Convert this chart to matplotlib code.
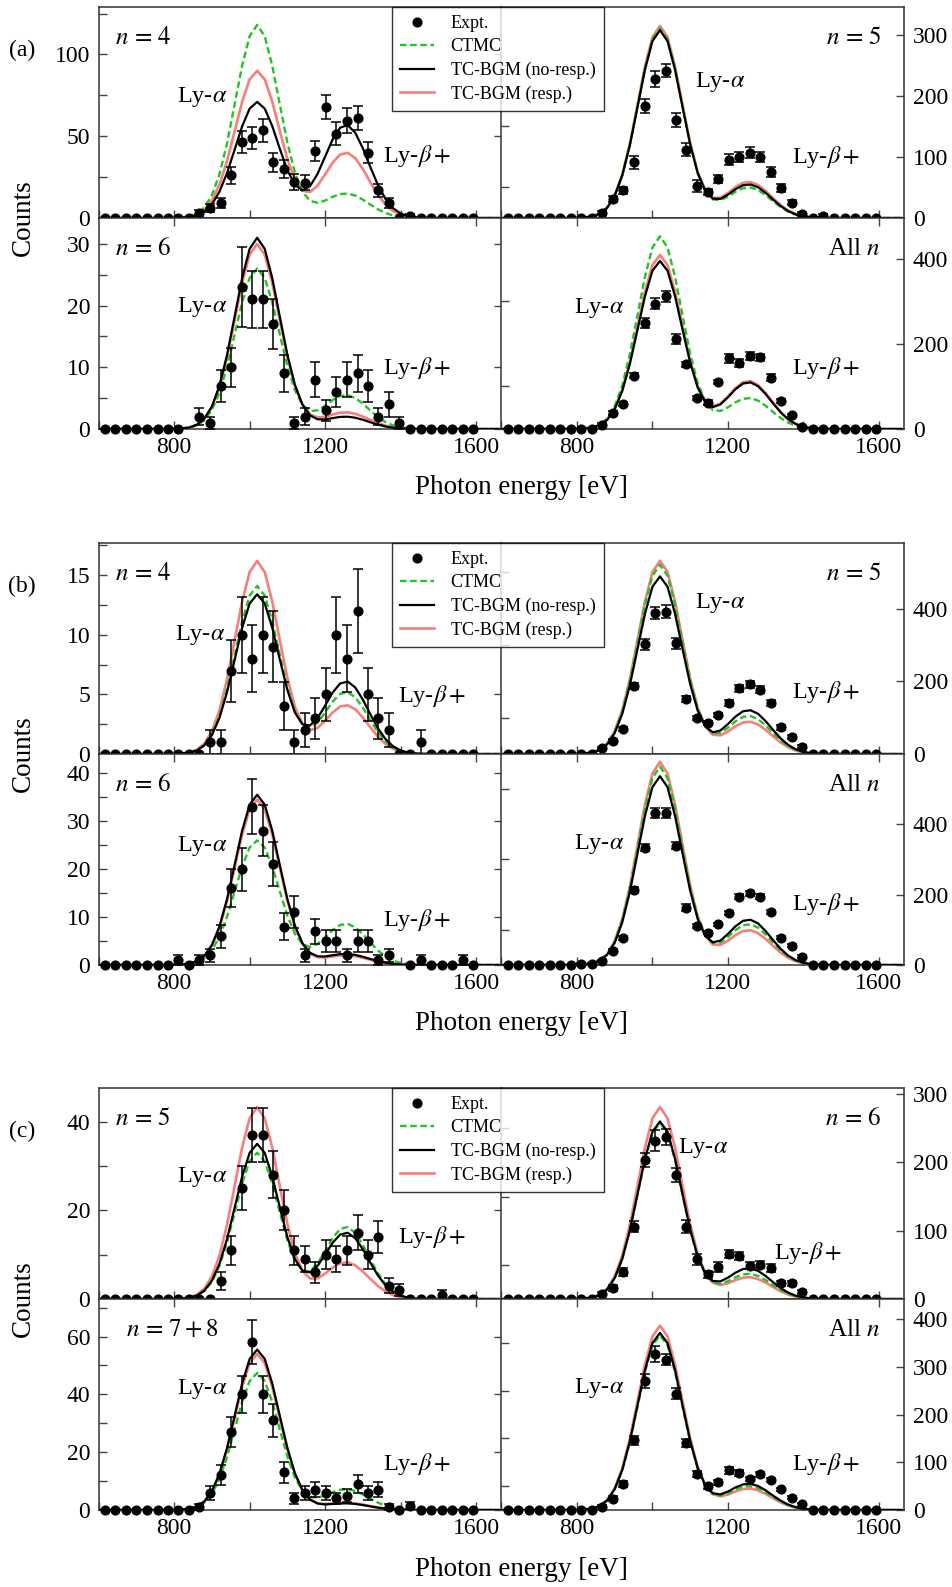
import numpy as np
import matplotlib
matplotlib.use('Agg')
import matplotlib.pyplot as plt
from matplotlib.lines import Line2D
from matplotlib.ticker import MultipleLocator

plt.rcParams['font.family'] = ['Liberation Serif', 'DejaVu Serif']
plt.rcParams['mathtext.fontset'] = 'stix'

nan = np.nan

# bin centres of the measured spectra [eV]
energy = [616, 644, 672, 700, 728, 756, 783, 811, 839, 867, 895, 923,
          951, 979, 1007, 1035, 1062, 1090, 1118, 1146, 1174, 1202, 1230, 1258,
          1286, 1314, 1341, 1369, 1397, 1425, 1453, 1481, 1509, 1537, 1565, 1593]

# model line shapes (peak normalised), read on a 20 eV grid 600..1660
curve_energy = np.arange(600, 1661, 20)
ly_alpha_shape = [0, 0, 0, 0, 0, 0, 0, 0, 0, 0,
                  0.001, 0.003, 0.008, 0.022, 0.054, 0.118, 0.226, 0.386, 0.586, 0.788,
                  0.942, 1.0, 0.942, 0.788, 0.586, 0.386, 0.226, 0.118, 0.054, 0.022,
                  0.008, 0.003, 0.001,
                  0, 0, 0, 0, 0, 0, 0, 0, 0, 0, 0, 0, 0, 0, 0, 0, 0, 0, 0, 0, 0]
ly_beta_shape = [0, 0, 0, 0, 0, 0, 0, 0, 0, 0, 0, 0, 0, 0, 0, 0, 0, 0, 0, 0, 0, 0, 0,
                 0.004, 0.012, 0.032, 0.073, 0.150, 0.274, 0.446, 0.648, 0.839, 0.968,
                 0.996, 0.914, 0.748, 0.545, 0.354, 0.205, 0.106, 0.049, 0.020, 0.007,
                 0.002, 0.001,
                 0, 0, 0, 0, 0, 0, 0, 0, 0]

# (a)
a_n4_counts = [0] * 9 + [3, 6, 9, 26, 46.5, 49, 53.5, 34, 30, 22, 21.5, 41, 68, 51.5, 59.5, 61,
                         40, 17, 9, 0, 1.5] + [0] * 6
a_n4_err = [0] * 9 + [1.7, 2.4, 3, 5, 6.6, 6.8, 7, 5.8, 5.4, 4.6, 4.5, 6.3, 7.2, 7, 7.5, 7.5,
                      6.2, 4, 3, 0, 1.2] + [0] * 6
a_n4_ctmc, a_n4_noresp, a_n4_resp = [118, 15], [71, 57], [90, 40]

a_n5_counts = [0] * 9 + [8, 31, 45, 91, 183, 227, 241, 160, 112, 52, 42, 64, 95, 100, 107, 100,
                         75, 49, 25, 6.5, 0, 4, 0, 0, 0, 0, 0]
a_n5_err = [0] * 9 + [3, 5, 6, 11, 12, 13, 10, 11, 11, 10, 5, 6, 9, 8, 9, 8,
                      8, 7, 4, 3, 0, 2, 0, 0, 0, 0, 0]
a_n5_ctmc, a_n5_noresp, a_n5_resp = [310, 50], [307, 55], [314, 59]

a_n6_counts = [0] * 8 + [nan] + [2, 1, 7, 10, 23, 21, 21, 17, 9, 1, 2, 8, 3, 6, 8, 9, 7, 2, 4, 1] + [0] * 7
a_n6_err = [0] * 9 + [1.4, 1, 2.6, 3.2, 6.5, 4.6, 4.6, 4.1, 3, 1, 1.4, 2.8, 1.7, 2.4, 2.8, 3,
                      2.6, 1.4, 2, 1] + [0] * 7
a_n6_ctmc, a_n6_noresp, a_n6_resp = [26, 5.5], [31, 2], [30, 2.7]

a_all_counts = [0] * 9 + [10, 37.5, 58.5, 125, 250, 295, 312, 211, 152, 73, 62, 110, 166, 155,
                          172, 169, 121, 66, 32, 5] + [0] * 7
a_all_err = [0] * 9 + [3, 5, 5, 6, 12, 13, 13, 12, 6, 5, 5, 5, 10, 10, 9, 8, 9, 5, 4, 2] + [0] * 7
a_all_ctmc, a_all_noresp, a_all_resp = [453, 73], [395, 110], [409, 113]

# (b)
b_n4_counts = [0] * 10 + [1, 1, 7, 10, 8, 10, 9, 4, 1, 2, 3, 5, 10, 8, 12, 5, 3, 2] + [0, 0, 1, 0, 0, 0, 0, 0]
b_n4_err = [0] * 10 + [1, 1, 2.6, 3.2, 2.8, 3.2, 3, 2, 1, 1.4, 1.7, 2.2, 3.2, 2.8, 3.5, 2.2,
                       1.7, 1.4] + [0, 0, 1, 0, 0, 0, 0, 0]
b_n4_ctmc, b_n4_noresp, b_n4_resp = [14.1, 5.2], [13.4, 6.1], [16.2, 4.1]

b_n5_counts = [0] * 9 + [15.5, 37, 69, 188, 302, 388, 392, 305, 151, 100, 86, 108, 140, 181, 192,
                         177, 140, 73, 46, 20] + [0] * 7
b_n5_err = [0] * 9 + [3, 4, 5, 8, 15, 17, 17, 15, 8, 6, 5, 6, 8, 10, 10, 9, 9, 6, 5, 4] + [0] * 7
b_n5_ctmc, b_n5_noresp, b_n5_resp = [521, 105], [489, 121], [532, 89]

b_n6_counts = [0] * 7 + [1, 0, 1, 2, 6, 16, 20, 33, 28, 21, 8, 11, 2, 7, 5, 5, 2, 5, 5, 1, 2] + [nan] + \
              [0, 1, 0, 0, 0, 1, 0]
b_n6_err = [0] * 7 + [1, 0, 1, 1.4, 2.4, 4, 4.5, 5.7, 5.3, 4.6, 2.8, 3.3, 1.4, 2.6, 2.2, 2.2, 1.4,
                      2.2, 2.2, 1, 1.4] + [0] + [0, 1, 0, 0, 0, 1, 0]
b_n6_ctmc, b_n6_noresp, b_n6_resp = [26, 8.6], [35.5, 2.3], [34.5, 2.0]

b_all_counts = [0] * 7 + [4, 4, 11, 40, 76, 213, 333, 432, 432, 338, 163, 111, 92, 115, 148, 194,
                          203, 194, 151, 78, 55, 24] + [0] * 7
b_all_err = [0] * 7 + [2, 2, 3, 5, 6, 8, 10, 15, 15, 10, 10, 6, 5, 5, 6, 8, 8, 8, 6, 5, 4, 3] + [0] * 7
b_all_ctmc, b_all_noresp, b_all_resp = [563, 116], [536, 129], [577, 99]

# (c)
c_n5_counts = [0] * 11 + [4, 11, 25, 37, 37, 28, 20, 11, 9, 6, 10, 9, 11, 15, 10, 14, 3, 2] + \
              [0, 0, 0, 1, 0, 0, 0]
c_n5_err = [0] * 11 + [2, 3.3, 5, 6.1, 6.1, 5.3, 4.5, 3.3, 3, 2.4, 3.2, 3, 3.3, 3.9, 3.2, 3.7,
                       1.7, 1.4] + [0, 0, 0, 1, 0, 0, 0]
c_n5_ctmc, c_n5_noresp, c_n5_resp = [33, 16.3], [35, 15], [43.3, 8.3]

c_n6_counts = [0] * 9 + [7, 16, 39, 106, 204, 232, 237, 182, 106, 58, 36, 47, 66, 63, 49, 50, 45,
                         23, 23, 10] + [0] * 7
c_n6_err = [0] * 9 + [3, 4, 6, 8, 10, 15, 12, 10, 10, 8, 5, 7, 6, 6, 5, 5, 6, 4, 4, 3] + [0] * 7
c_n6_ctmc, c_n6_noresp, c_n6_resp = [258, 37], [260, 45], [281, 32]

c_n78_counts = [0] * 9 + [1, 6, 12, 27, 40, 58, 40, 31, 13, 4, 6, 7, 6, 4, 5, 9, 6, 7, 1, 0, 1.5] + [0] * 6
c_n78_err = [0] * 9 + [1, 2.4, 3.5, 5.2, 6.3, 7.6, 6.3, 5.6, 3.6, 2, 2.4, 2.6, 2.4, 2, 2.2, 3, 2.4,
                       2.6, 1, 0, 1.2] + [0] * 6
c_n78_ctmc, c_n78_noresp, c_n78_resp = [47.4, 7.2], [55.5, 2.3], [54, 2.5]

c_all_counts = [0] * 9 + [7, 24, 54, 146, 270, 327, 315, 244, 141, 75, 50, 58, 83, 78, 65, 75, 63,
                          43, 26, 12] + [0] * 7
c_all_err = [0] * 9 + [3, 5, 6, 10, 15, 16, 12, 11, 8, 6, 5, 5, 8, 6, 5, 5, 5, 4, 4, 3] + [0] * 7
c_all_ctmc, c_all_noresp, c_all_resp = [366, 50], [371, 55], [386, 45]

GREEN = '#22c322'
SALMON = '#f47f7b'
SPINE = '#333333'

W, H = 953, 1587
PW, PH = 403, 211
COL_X = [98.7, 501.5]

fig = plt.figure(figsize=(W / 100, H / 100), dpi=100)


def draw_panel(ax, counts, err, ctmc, noresp, resp):
    a = np.array(ly_alpha_shape)
    b = np.array(ly_beta_shape)
    ax.plot(curve_energy, resp[0] * a + resp[1] * b, color=SALMON, lw=1.9, zorder=2)
    ax.plot(curve_energy, ctmc[0] * a + ctmc[1] * b, color=GREEN, lw=1.7, dashes=(2.8, 1.5), zorder=3)
    ax.plot(curve_energy, noresp[0] * a + noresp[1] * b, color='black', lw=1.6, zorder=4)
    x = np.array(energy, float)
    y = np.array(counts, float)
    e = np.array(err, float)
    m = e > 0
    ax.errorbar(x[m], y[m], yerr=e[m], fmt='none', ecolor='black', elinewidth=1.1,
                capsize=3.5, capthick=1.1, zorder=5, clip_on=False)
    ax.plot(x, y, 'o', color='black', ms=6.3, zorder=6, clip_on=False)


# group: (tag, top px, panels) ; panel: data, ylim, major step, label, label x, alpha pos, beta pos
groups = [
    ('(a)', 7, [
        (a_n4_counts, a_n4_err, a_n4_ctmc, a_n4_noresp, a_n4_resp, 129, 50, r'$n\,=\,4$', 0.04,
         (0.318, 0.573), (0.705, 0.295)),
        (a_n5_counts, a_n5_err, a_n5_ctmc, a_n5_noresp, a_n5_resp, 345, 100, r'$n\,=\,5$', 0.943,
         (0.481, 0.645), (0.72, 0.289)),
        (a_n6_counts, a_n6_err, a_n6_ctmc, a_n6_noresp, a_n6_resp, 34.2, 10, r'$n\,=\,6$', 0.04,
         (0.318, 0.578), (0.705, 0.289)),
        (a_all_counts, a_all_err, a_all_ctmc, a_all_noresp, a_all_resp, 496, 200, r'All $n$', 0.94,
         (0.181, 0.573), (0.72, 0.289)),
    ]),
    ('(b)', 543, [
        (b_n4_counts, b_n4_err, b_n4_ctmc, b_n4_noresp, b_n4_resp, 17.7, 5, r'$n\,=\,4$', 0.04,
         (0.315, 0.564), (0.743, 0.275)),
        (b_n5_counts, b_n5_err, b_n5_ctmc, b_n5_noresp, b_n5_resp, 581, 200, r'$n\,=\,5$', 0.943,
         (0.481, 0.716), (0.72, 0.294)),
        (b_n6_counts, b_n6_err, b_n6_ctmc, b_n6_noresp, b_n6_resp, 44, 10, r'$n\,=\,6$', 0.04,
         (0.318, 0.564), (0.706, 0.213)),
        (b_all_counts, b_all_err, b_all_ctmc, b_all_noresp, b_all_resp, 599, 200, r'All $n$', 0.94,
         (0.181, 0.573), (0.72, 0.289)),
    ]),
    ('(c)', 1088, [
        (c_n5_counts, c_n5_err, c_n5_ctmc, c_n5_noresp, c_n5_resp, 47.6, 20, r'$n\,=\,5$', 0.04,
         (0.318, 0.578), (0.743, 0.294)),
        (c_n6_counts, c_n6_err, c_n6_ctmc, c_n6_noresp, c_n6_resp, 309, 100, r'$n\,=\,6$', 0.943,
         (0.439, 0.716), (0.677, 0.218)),
        (c_n78_counts, c_n78_err, c_n78_ctmc, c_n78_noresp, c_n78_resp, 73, 20, r'$n\,=\,7+8$', 0.068,
         (0.318, 0.573), (0.705, 0.218)),
        (c_all_counts, c_all_err, c_all_ctmc, c_all_noresp, c_all_resp, 442, 100, r'All $n$', 0.94,
         (0.181, 0.578), (0.72, 0.218)),
    ]),
]

for tag, top, panels in groups:
    for k, p in enumerate(panels):
        counts, err, ctmc, noresp, resp, ytop, major, label, lx, apos, bpos = p
        row, col = k // 2, k % 2
        rect = [COL_X[col] / W, 1 - (top + PH * (row + 1)) / H, PW / W, PH / H]
        ax = fig.add_axes(rect)
        draw_panel(ax, counts, err, ctmc, noresp, resp)
        ax.set_xlim(600, 1668)
        ax.set_ylim(0, ytop)
        ax.xaxis.set_major_locator(MultipleLocator(400))
        ax.xaxis.set_minor_locator(MultipleLocator(200))
        ax.yaxis.set_major_locator(MultipleLocator(major))
        ax.yaxis.set_minor_locator(MultipleLocator(major / 2))
        ax.tick_params(which='both', direction='in', length=6, width=1, color='#444444',
                       labelsize=17, pad=6)
        ax.tick_params(axis='x', bottom=True, top=(row == 1), labelbottom=(row == 1))
        if col == 0:
            ax.tick_params(axis='y', left=True, right=True, labelleft=True, labelright=False)
        else:
            ax.tick_params(axis='y', left=False, right=True, labelleft=False, labelright=True)
        for s in ax.spines.values():
            s.set_color(SPINE)
            s.set_linewidth(1.1)
        ax.text(lx, 0.855, label, transform=ax.transAxes, fontsize=18,
                ha='left' if col == 0 else 'right', va='center')
        ax.text(apos[0], apos[1], r'Ly-$\alpha$', transform=ax.transAxes, fontsize=17.5,
                ha='right' if col == 0 else 'left', va='center')
        ax.text(bpos[0], bpos[1], r'Ly-$\beta+$', transform=ax.transAxes, fontsize=17.5,
                ha='left', va='center')

    fig.text(22 / W, 1 - (top + 43) / H, tag, fontsize=17, ha='center', va='center')
    fig.text(23 / W, 1 - (top + PH) / H, 'Counts', fontsize=19.5, rotation=90,
             ha='center', va='center')
    fig.text(521 / W, 1 - (top + 481) / H, 'Photon energy [eV]', fontsize=19.5,
             ha='center', va='center')

    handles = [
        Line2D([], [], ls='none', marker='o', color='black', ms=6.3),
        Line2D([], [], color=GREEN, lw=1.7, dashes=(2.8, 1.5)),
        Line2D([], [], color='black', lw=1.6),
        Line2D([], [], color=SALMON, lw=1.9),
    ]
    leg = fig.legend(handles, ['Expt.', 'CTMC', 'TC-BGM (no-resp.)', 'TC-BGM (resp.)'],
                     loc='upper left', bbox_to_anchor=(392 / W, 1 - top / H), borderaxespad=0,
                     fontsize=13, frameon=True, fancybox=False, edgecolor='black',
                     handlelength=1.9, handletextpad=0.9, labelspacing=0.35, borderpad=0.45)
    leg.get_frame().set_linewidth(1.0)

fig.savefig('out.png', dpi=100)
